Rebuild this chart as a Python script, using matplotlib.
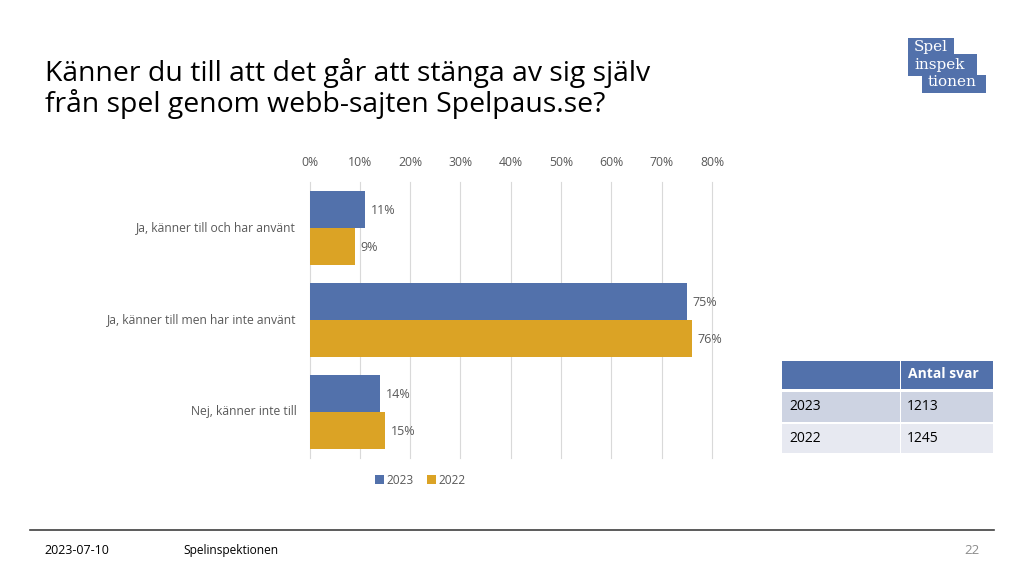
import matplotlib
matplotlib.use("Agg")
import matplotlib.pyplot as plt
from matplotlib.patches import Rectangle
from matplotlib.ticker import PercentFormatter
import numpy as np

categories = ["Ja, känner till och har använt",
              "Ja, känner till men har inte använt",
              "Nej, känner inte till"]
values_2023 = [11, 75, 14]
values_2022 = [9, 76, 15]
table_rows = [["", "Antal svar"], ["2023", "1213"], ["2022", "1245"]]

BLUE = "#5271ab"
GOLD = "#dba325"
W, H = 1024, 576

plt.rcParams["font.family"] = ["Open Sans", "DejaVu Sans"]

fig = plt.figure(figsize=(10.24, 5.76), dpi=100)


# pixel helpers, the slide is laid out in pixels
def fx(x):
    return x / W


def fy(y):
    return 1 - y / H


def box(x0, y0, x1, y1, color):
    fig.add_artist(Rectangle((fx(x0), fy(y1)), (x1 - x0) / W, (y1 - y0) / H,
                             transform=fig.transFigure, color=color, lw=0))


# title
fig.text(fx(45), fy(81), "Känner du till att det går att stänga av sig själv",
         fontsize=20.4, va="baseline", color="black")
fig.text(fx(45), fy(112), "från spel genom webb-sajten Spelpaus.se?",
         fontsize=20.4, va="baseline", color="black")

# chart
ax = fig.add_axes([fx(309.5), fy(458), 402.5 / W, 276 / H])
y = np.arange(len(categories))
h = 0.405
ax.barh(y - h / 2, values_2023, h, color=BLUE, label="2023", zorder=3)
ax.barh(y + h / 2, values_2022, h, color=GOLD, label="2022", zorder=3)
for i in y:
    ax.text(values_2023[i] + 1.2, i - h / 2 + 0.01, f"{values_2023[i]}%", va="center",
            fontsize=9, color="#595959")
    ax.text(values_2022[i] + 1.2, i + h / 2 + 0.01, f"{values_2022[i]}%", va="center",
            fontsize=9, color="#595959")

ax.set_xlim(0, 80)
ax.set_ylim(2.5, -0.5)
ax.set_xticks(range(0, 81, 10))
ax.xaxis.set_major_formatter(PercentFormatter(decimals=0))
ax.xaxis.tick_top()
ax.set_yticks(y)
ax.set_yticklabels(categories, va="center")
ax.tick_params(axis="x", length=0, pad=9.5, labelsize=8.8, labelcolor="#595959")
ax.tick_params(axis="y", length=0, pad=9.5, labelsize=8.7, labelcolor="#595959")
ax.grid(axis="x", color="#d9d9d9", lw=0.8, zorder=0, clip_on=False)
for s in ax.spines.values():
    s.set_visible(False)

leg = fig.legend(loc="center", bbox_to_anchor=(fx(420.5), fy(480)), ncol=2, frameon=False,
                 fontsize=8.6, handlelength=0.75, handleheight=0.75, handletextpad=0.2,
                 columnspacing=1.1, labelcolor="#595959")

# table
col_x = [782, 900, 993]
row_y = [361, 390, 422, 453]
row_colors = [BLUE, "#cdd3e2", "#e7e9f1"]
for r, row in enumerate(table_rows):
    for c, cell in enumerate(row):
        box(col_x[c] + (1 if c else 0), row_y[r] + (1.5 if r else 0),
            col_x[c + 1], row_y[r + 1] - (1.5 if r == 0 else 0), row_colors[r])
        if r == 0:
            fig.text(fx(col_x[c] + 8), fy(374), cell, fontsize=10, fontweight="bold",
                     color="white", va="center")
        else:
            fig.text(fx(col_x[c] + 7), fy((row_y[r] + row_y[r + 1]) / 2 + 0.5), cell,
                     fontsize=10, color="black", va="center")

# logo
box(908, 38, 954, 55, BLUE)
box(908, 54, 977, 76, BLUE)
box(922, 75, 986, 93, BLUE)
fig.text(fx(914), fy(47), "Spel", fontsize=11, family="DejaVu Serif", color="white", va="center")
fig.text(fx(914), fy(65), "inspek", fontsize=11, family="DejaVu Serif", color="white", va="center")
fig.text(fx(928), fy(82), "tionen", fontsize=11, family="DejaVu Serif", color="white", va="center")

# footer
fig.add_artist(plt.Line2D([fx(30), fx(994)], [fy(530), fy(530)], color="#404040", lw=1.2))
fig.text(fx(44), fy(554), "2023-07-10", fontsize=9, color="black", va="baseline")
fig.text(fx(183), fy(554), "Spelinspektionen", fontsize=8.6, color="black", va="baseline")
fig.text(fx(980), fy(554), "22", fontsize=9.5, color="#8c8c8c", va="baseline", ha="right")

fig.savefig("out.png", dpi=100)
